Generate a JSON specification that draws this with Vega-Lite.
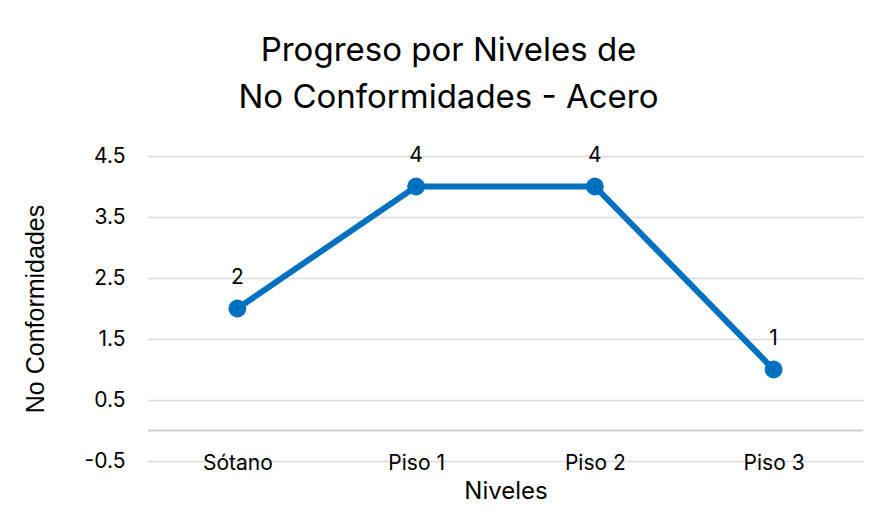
{
  "$schema": "https://vega.github.io/schema/vega-lite/v6.json",
  "autosize": "none",
  "width": 715,
  "height": 305,
  "padding": {"left": 148, "top": 156, "right": 17, "bottom": 71},
  "background": "white",
  "config": {
    "view": {"stroke": null},
    "font": "Inter"
  },
  "title": {
    "text": ["Progreso por Niveles de", "No Conformidades - Acero"],
    "fontSize": 33,
    "fontWeight": "normal",
    "color": "#000000",
    "font": "Inter",
    "anchor": "middle",
    "frame": "group",
    "dx": -57,
    "lineHeight": 47,
    "offset": 30
  },
  "data": {
    "values": [
      {"nivel": "Sótano", "nc": 2},
      {"nivel": "Piso 1", "nc": 4},
      {"nivel": "Piso 2", "nc": 4},
      {"nivel": "Piso 3", "nc": 1}
    ]
  },
  "encoding": {
    "x": {
      "field": "nivel",
      "type": "nominal",
      "sort": null,
      "scale": {"type": "point", "padding": 0.5},
      "axis": {
        "title": "Niveles",
        "titleFontSize": 24,
        "titleFontWeight": "normal",
        "titleColor": "#000000",
        "titlePadding": 6,
        "labelAngle": 0,
        "labelFontSize": 21,
        "labelColor": "#000000",
        "labelBaseline": "middle",
        "labelPadding": 2,
        "ticks": false,
        "domain": false,
        "grid": false
      }
    },
    "y": {
      "field": "nc",
      "type": "quantitative",
      "scale": {"domain": [-0.5, 4.5], "nice": false, "zero": false},
      "axis": {
        "title": "No Conformidades",
        "titleFont": "Liberation Sans",
        "titleFontSize": 25,
        "titleFontWeight": "normal",
        "titleColor": "#000000",
        "titlePadding": 36,
        "values": [-0.5, 0.5, 1.5, 2.5, 3.5, 4.5],
        "labelExpr": "datum.value < 0 ? '-' + format(-datum.value, '.1f') : format(datum.value, '.1f')",
        "labelFontSize": 21,
        "labelColor": "#000000",
        "labelPadding": 23,
        "ticks": false,
        "domain": false,
        "grid": true,
        "gridColor": "#d9d9d9",
        "gridWidth": 1.5
      }
    }
  },
  "layer": [
    {
      "data": {"values": [{"v": 0}]},
      "mark": {"type": "rule", "color": "#d0d0d0", "strokeWidth": 2},
      "encoding": {"y": {"field": "v", "type": "quantitative"}, "x": null}
    },
    {
      "mark": {"type": "line", "color": "#0070C0", "strokeWidth": 6}
    },
    {
      "mark": {"type": "point", "filled": true, "opacity": 1, "color": "#0070C0", "size": 320}
    },
    {
      "mark": {"type": "point", "filled": true, "opacity": 1, "color": "#1f4e79", "size": 5}
    },
    {
      "mark": {"type": "text", "dy": -31, "fontSize": 21, "color": "#000000", "font": "Inter"},
      "encoding": {"text": {"field": "nc", "type": "quantitative"}}
    }
  ]
}
